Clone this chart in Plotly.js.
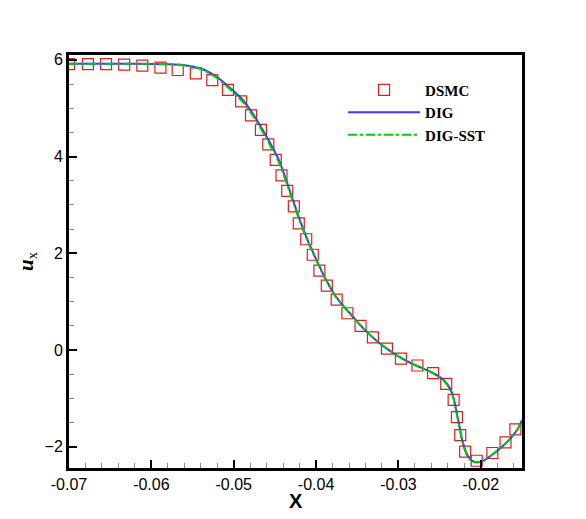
<!DOCTYPE html>
<html>
<head>
<meta charset="utf-8">
<script src="https://cdn.plot.ly/plotly-3.0.1.min.js"></script>
<style>
  html, body { margin: 0; padding: 0; background: #fff; }
  #chart { width: 586px; height: 519px; }
</style>
</head>
<body>
<div id="chart"></div>
<script>
// DSMC samples (open squares)
const dsmcX = [-0.0700, -0.0677, -0.0655, -0.0633, -0.0611, -0.0589, -0.0568, -0.0546,
  -0.0526, -0.0507, -0.0491, -0.0479, -0.0467, -0.0458, -0.0449, -0.0442, -0.0435,
  -0.0427, -0.0421, -0.0412, -0.0404, -0.0396, -0.0387, -0.0375, -0.0362, -0.0346,
  -0.0331, -0.0314, -0.0297, -0.0277, -0.0258, -0.0242, -0.0233, -0.0229, -0.0225,
  -0.0219, -0.0205, -0.0186, -0.0170, -0.0158];
const dsmcY = [5.91, 5.91, 5.91, 5.90, 5.88, 5.84, 5.79, 5.72,
  5.58, 5.38, 5.14, 4.85, 4.55, 4.25, 3.93, 3.61, 3.29,
  2.97, 2.62, 2.29, 1.97, 1.64, 1.33, 1.04, 0.76, 0.50,
  0.26, 0.03, -0.18, -0.32, -0.48, -0.70, -1.03, -1.39, -1.76,
  -2.10, -2.29, -2.13, -1.91, -1.64];

// DIG (solid blue) and DIG-SST (green dash-dot)
const curveX = [-0.0700, -0.0660, -0.0620, -0.0580, -0.0560, -0.0540, -0.0520, -0.0505,
  -0.0490, -0.0475, -0.0460, -0.0445, -0.0430, -0.0420, -0.0410, -0.0400, -0.0390,
  -0.0375, -0.0360, -0.0340, -0.0320, -0.0300, -0.0280, -0.0260, -0.0245, -0.0235,
  -0.0228, -0.0222, -0.0216, -0.0210, -0.0203, -0.0195, -0.0185, -0.0175, -0.0165,
  -0.0155, -0.0150];
const digY = [5.92, 5.92, 5.92, 5.91, 5.89, 5.82, 5.64, 5.43,
  5.19, 4.84, 4.41, 3.92, 3.20, 2.70, 2.26, 1.88, 1.52,
  1.08, 0.78, 0.40, 0.10, -0.13, -0.31, -0.46, -0.62, -0.88,
  -1.40, -1.90, -2.18, -2.30, -2.32, -2.27, -2.15, -2.01, -1.85,
  -1.63, -1.45];
const digSstY = [5.92, 5.92, 5.92, 5.91, 5.89, 5.81, 5.62, 5.40,
  5.15, 4.80, 4.36, 3.87, 3.16, 2.67, 2.24, 1.86, 1.51,
  1.07, 0.77, 0.40, 0.10, -0.13, -0.31, -0.46, -0.63, -0.90,
  -1.43, -1.93, -2.20, -2.31, -2.32, -2.27, -2.15, -2.01, -1.85,
  -1.63, -1.45];

const xTickVals = [-0.07, -0.06, -0.05, -0.04, -0.03, -0.02];
const xTickText = ["-0.07", "-0.06", "-0.05", "-0.04", "-0.03", "-0.02"];
const yTickVals = [-2, 0, 2, 4, 6];

const traces = [
  {
    x: dsmcX, y: dsmcY, name: "DSMC", type: "scatter", mode: "markers",
    marker: { symbol: "square-open", size: 11, color: "#e01e1e", line: { width: 1.2 } }
  },
  {
    x: curveX, y: digY, name: "DIG", type: "scatter", mode: "lines",
    line: { color: "#3a3aff", width: 2, shape: "spline", smoothing: 0.7 }
  },
  {
    x: curveX, y: digSstY, name: "DIG-SST", type: "scatter", mode: "lines",
    line: { color: "#00cc00", width: 2, dash: "dashdot", shape: "spline", smoothing: 0.7 }
  }
];

const axisCommon = {
  showline: true, linecolor: "#000", linewidth: 3, mirror: true,
  showgrid: false, zeroline: false,
  ticks: "inside", ticklen: 8, tickwidth: 2, tickcolor: "#000",
  tickfont: { family: "Liberation Sans, Arial, sans-serif", size: 16, color: "#000" }
};

const layout = {
  width: 586, height: 519,
  margin: { l: 69, r: 64, t: 55, b: 51 },
  paper_bgcolor: "#fff", plot_bgcolor: "#fff",
  showlegend: true,
  legend: {
    x: 0.605, y: 0.955, xanchor: "left", yanchor: "top",
    bgcolor: "rgba(0,0,0,0)", itemwidth: 72, tracegroupgap: 0,
    font: { family: "Liberation Serif, Times New Roman, serif", size: 15, color: "#000", weight: "bold" }
  },
  // x-axis title as annotation so it can sit tight under the tick labels
  annotations: [{
    text: "<b>X</b>", xref: "paper", yref: "paper", x: 0.5, y: -0.08,
    xanchor: "center", yanchor: "middle", showarrow: false, borderpad: 0,
    font: { family: "Liberation Sans, Arial, sans-serif", size: 20, color: "#000" }
  }],
  xaxis: Object.assign({}, axisCommon, {
    range: [-0.07, -0.015],
    tickvals: xTickVals, ticktext: xTickText,
    minor: { dtick: 0.002, ticks: "inside", ticklen: 5, tickwidth: 1, tickcolor: "#888" }
  }),
  yaxis: Object.assign({}, axisCommon, {
    range: [-2.44, 6.10],
    tickvals: yTickVals,
    minor: { dtick: 0.5, ticks: "inside", ticklen: 5, tickwidth: 1, tickcolor: "#888" },
    title: { text: "<b><i>u</i></b><sub>x</sub>", font: { family: "Liberation Serif, Times New Roman, serif", size: 21, color: "#000" }, standoff: 6 }
  })
};

Plotly.newPlot("chart", traces, layout, { displayModeBar: false, staticPlot: true });
</script>
</body>
</html>
